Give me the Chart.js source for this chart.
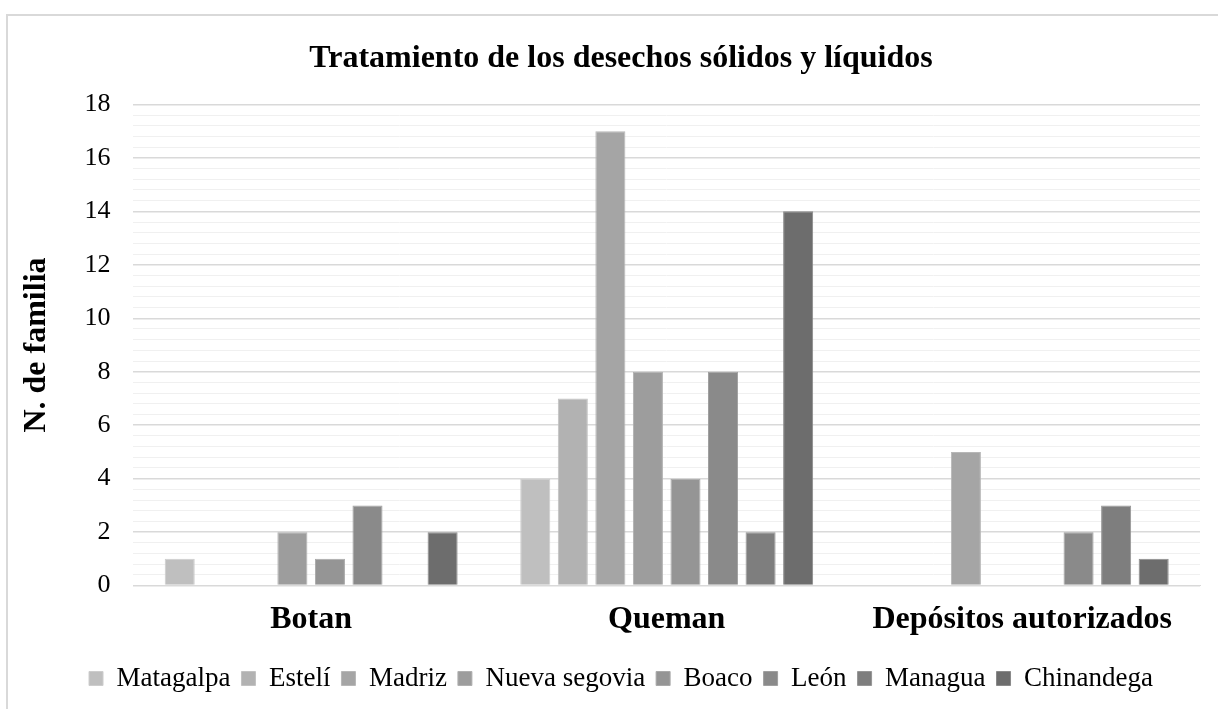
<!DOCTYPE html>
<html>
<head>
<meta charset="utf-8">
<script src="https://cdn.jsdelivr.net/npm/chart.js@4/dist/chart.umd.min.js"></script>
<style>
  html, body { margin: 0; padding: 0; background: #ffffff; overflow: hidden; }
  #wrap { position: relative; width: 1218px; height: 709px; }
  #frame { position: absolute; left: 6px; top: 14px; width: 1300px; height: 800px;
           border-left: 2px solid #d9d9d9; border-top: 2px solid #d9d9d9; box-sizing: border-box; }
  #c { position: absolute; left: 0; top: 0; }
</style>
</head>
<body>
<div id="wrap">
  <div id="frame"></div>
  <canvas id="c" width="1218" height="709"></canvas>
</div>
<script>
const chartTitle = 'Tratamiento de los desechos sólidos y líquidos';
const yAxisTitle = 'N. de familia';
const categories = ['Botan', 'Queman', 'Depósitos autorizados'];
const seriesNames = ['Matagalpa', 'Estelí', 'Madriz', 'Nueva segovia', 'Boaco', 'León', 'Managua', 'Chinandega'];
const matagalpa    = [1, 4, 0];
const esteli       = [0, 7, 0];
const madriz       = [0, 17, 5];
const nuevaSegovia = [2, 8, 0];
const boaco        = [1, 4, 0];
const leon         = [3, 8, 2];
const managua      = [0, 2, 3];
const chinandega   = [2, 14, 1];
const yMin = 0, yMax = 18, yMinorStep = 0.4, yMajorStep = 2;

const seriesValues = [matagalpa, esteli, madriz, nuevaSegovia, boaco, leon, managua, chinandega];
const fills   = ['#bfbfbf', '#b2b2b2', '#a5a5a5', '#9d9d9d', '#959595', '#8a8a8a', '#7e7e7e', '#6d6d6d'];
const borders = ['#cdcdcd', '#c2c2c2', '#b7b7b7', '#b0b0b0', '#a9a9a9', '#a0a0a0', '#969696', '#8a8a8a'];

const isMajor = v => {
  const r = Math.round(v * 10) / 10;
  return Math.abs(r / yMajorStep - Math.round(r / yMajorStep)) < 1e-6;
};

const serif = '"Liberation Serif", "Times New Roman", serif';

new Chart(document.getElementById('c'), {
  type: 'bar',
  data: {
    labels: categories,
    datasets: seriesNames.map((name, i) => ({
      label: name,
      data: seriesValues[i],
      backgroundColor: fills[i],
      borderColor: borders[i],
      borderWidth: 1,
      categoryPercentage: 0.845,
      barPercentage: 0.8
    }))
  },
  options: {
    responsive: false,
    animation: false,
    layout: { padding: { left: 42, right: 18, top: 20, bottom: 7 } },
    plugins: {
      title: {
        display: true,
        text: chartTitle,
        color: '#000000',
        font: { family: serif, size: 32, weight: 'bold' },
        padding: { top: 20, bottom: 26 }
      },
      legend: {
        position: 'bottom',
        labels: {
          color: '#000000',
          font: { family: serif, size: 27 },
          boxWidth: 14,
          boxHeight: 14,
          padding: 11
        }
      },
      tooltip: { enabled: false }
    },
    scales: {
      x: {
        grid: { display: false, drawTicks: false },
        border: { display: true, color: '#d9d9d9', width: 1 },
        ticks: {
          color: '#000000',
          font: { family: serif, size: 32, weight: 'bold', lineHeight: 2.2 },
          padding: -1,
          maxRotation: 0,
          autoSkip: false
        }
      },
      y: {
        min: yMin,
        max: yMax,
        border: { display: false },
        grid: {
          drawTicks: false,
          color: ctx => isMajor(ctx.tick.value) ? '#d9d9d9' : '#f0f0f0',
          lineWidth: ctx => isMajor(ctx.tick.value) ? 1.5 : 1
        },
        ticks: {
          stepSize: yMinorStep,
          autoSkip: false,
          color: '#000000',
          font: { family: serif, size: 26 },
          padding: 23,
          callback: v => isMajor(v) ? String(Math.round(v)) : ''
        },
        title: {
          display: true,
          text: yAxisTitle,
          color: '#000000',
          font: { family: serif, size: 32, weight: 'bold' },
          padding: { top: -24, bottom: 5 }
        }
      }
    }
  }
});
</script>
</body>
</html>
